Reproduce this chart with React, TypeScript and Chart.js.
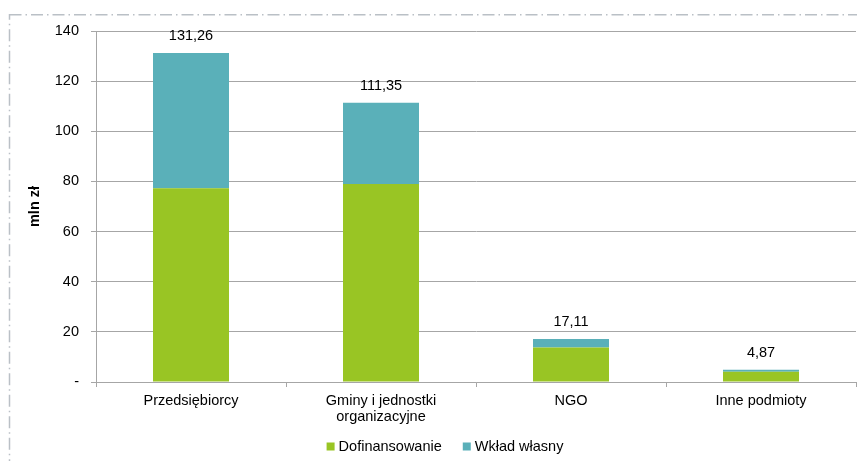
import React, { useEffect, useRef } from 'react';
import { Chart, registerables } from 'chart.js';

Chart.register(...registerables);

const categories: string[][] = [
  ['Przedsiębiorcy'],
  ['Gminy i jednostki', 'organizacyjne'],
  ['NGO'],
  ['Inne podmioty'],
];
const seriesNames = ['Dofinansowanie', 'Wkład własny'];
const dofinansowanie = [77.3, 79.0, 13.8, 4.1];
const wkladWlasny = [53.96, 32.35, 3.31, 0.77];
const totals = [131.26, 111.35, 17.11, 4.87];
const totalLabels = ['131,26', '111,35', '17,11', '4,87'];
const yAxisTitle = 'mln zł';

const GREEN = '#99C524';
const TEAL = '#5AB0B9';
const FONT = '"Liberation Sans", Arial, sans-serif';
const FS = 14.5;

const overlay = {
  id: 'overlay',
  beforeDraw(chart: any) {
    const ctx = chart.ctx;
    ctx.save();
    ctx.strokeStyle = '#BAC0C6';
    ctx.lineWidth = 1.5;
    ctx.setLineDash([12, 4, 1.5, 4]);
    ctx.strokeRect(9.5, 14.75, 900, 500);
    ctx.restore();
  },
  afterDraw(chart: any) {
    const ctx = chart.ctx;
    const y = chart.scales.y;
    const meta = chart.getDatasetMeta(1);
    ctx.save();
    ctx.fillStyle = '#000';
    ctx.font = `${FS}px ${FONT}`;
    ctx.textAlign = 'center';
    ctx.textBaseline = 'middle';
    meta.data.forEach((el: any, i: number) => {
      ctx.fillText(totalLabels[i], el.x, y.getPixelForValue(totals[i]) - 17);
    });
    // y title
    ctx.save();
    ctx.translate(35, (chart.chartArea.top + chart.chartArea.bottom) / 2);
    ctx.rotate(-Math.PI / 2);
    ctx.font = `bold ${FS}px ${FONT}`;
    ctx.fillText(yAxisTitle, 0, 0);
    ctx.restore();
    // legend
    ctx.font = `${FS}px ${FONT}`;
    const box = 8;
    const gap = 4;
    const itemGap = 21;
    const items = chart.data.datasets.map((d: any) => ({
      label: d.label,
      color: d.backgroundColor,
      w: box + gap + ctx.measureText(d.label).width,
    }));
    const total = items.reduce((s: number, it: any) => s + it.w, 0) + itemGap * (items.length - 1);
    let x = 445 - total / 2;
    const cy = 446.5;
    ctx.textAlign = 'left';
    items.forEach((it: any) => {
      ctx.fillStyle = it.color;
      ctx.fillRect(x, cy - box / 2, box, box);
      ctx.fillStyle = '#000';
      ctx.fillText(it.label, x + box + gap, cy + 0.5);
      x += it.w + itemGap;
    });
    ctx.restore();
  },
};

export default function App() {
  const ref = useRef<HTMLCanvasElement>(null);
  useEffect(() => {
    document.body.style.margin = '0';
    const chart = new Chart(ref.current!, {
      type: 'bar',
      data: {
        labels: categories as any,
        datasets: [
          { label: seriesNames[0], data: dofinansowanie, backgroundColor: GREEN, categoryPercentage: 1, barPercentage: 0.4 },
          { label: seriesNames[1], data: wkladWlasny, backgroundColor: TEAL, categoryPercentage: 1, barPercentage: 0.4 },
        ],
      },
      options: {
        responsive: false,
        animation: false,
        layout: { padding: { top: 31, right: 1, bottom: 0, left: 0 } },
        plugins: { legend: { display: false }, tooltip: { enabled: false } },
        scales: {
          x: {
            stacked: true,
            afterFit: (s: any) => { s.height = 79; },
            grid: { display: true, drawOnChartArea: false, tickLength: 5, color: '#A6A6A6', offset: true },
            border: { color: '#A6A6A6' },
            ticks: { color: '#000', padding: 6, font: { family: FONT, size: FS, lineHeight: 1.12 }, maxRotation: 0, autoSkip: false },
          },
          y: {
            stacked: true,
            min: 0,
            max: 140,
            afterFit: (s: any) => { s.width = 96; },
            grid: { color: '#A6A6A6', tickLength: 5 },
            border: { color: '#A6A6A6' },
            ticks: {
              stepSize: 20,
              color: '#000',
              padding: 12,
              font: { family: FONT, size: FS },
              callback: (v: any) => (v === 0 ? '-' : String(v)),
            },
          },
        },
      },
      plugins: [overlay],
    });
    return () => chart.destroy();
  }, []);
  return (
    <div style={{ width: 857, height: 461 }}>
      <canvas ref={ref} width={857} height={461} />
    </div>
  );
}
